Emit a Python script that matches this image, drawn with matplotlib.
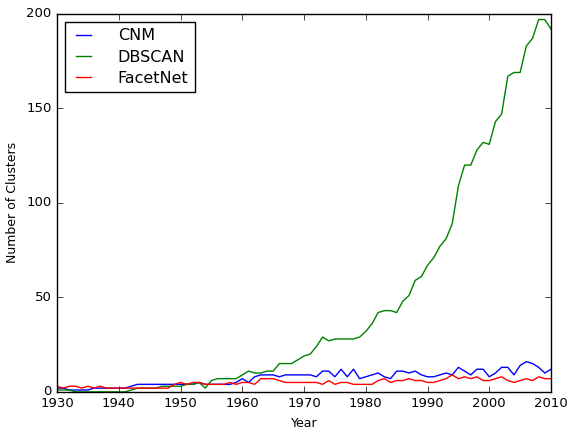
import numpy as np
import matplotlib
matplotlib.use('Agg')
import matplotlib.pyplot as plt

plt.style.use('classic')

# Годы и число кластеров для каждого метода
years = np.arange(1930, 2011)

cnm = [2, 2, 1, 1, 1, 1, 2, 2, 2, 2,
       2, 2, 3, 4, 4, 4, 4, 4, 4, 4,
       4, 4, 4, 5, 4, 4, 4, 4, 4, 5,
       7, 5, 8, 9, 9, 9, 8, 9, 9, 9,
       9, 9, 8, 11, 11, 8, 12, 8, 12, 7,
       8, 9, 10, 8, 7, 11, 11, 10, 11, 9,
       8, 8, 9, 10, 9, 13, 11, 9, 12, 12,
       8, 10, 13, 13, 9, 14, 16, 15, 13, 10,
       12]

dbscan = [1, 1, 1, 0, 0, 0, 0, 0, 0, 0,
          0, 0, 1, 2, 2, 2, 2, 3, 3, 3,
          3, 4, 4, 5, 2, 6, 7, 7, 7, 7,
          9, 11, 10, 10, 11, 11, 15, 15, 15, 17,
          19, 20, 24, 29, 27, 28, 28, 28, 28, 29,
          32, 36, 42, 43, 43, 42, 48, 51, 59, 61,
          67, 71, 77, 81, 89, 109, 120, 120, 128, 132,
          131, 143, 147, 167, 169, 169, 183, 187, 197, 197,
          192]

facetnet = [3, 2, 3, 3, 2, 3, 2, 3, 2, 2,
            2, 2, 2, 2, 2, 2, 2, 2, 2, 4,
            5, 4, 5, 5, 4, 4, 4, 4, 5, 4,
            5, 5, 4, 7, 7, 7, 6, 5, 5, 5,
            5, 5, 5, 4, 6, 4, 5, 5, 4, 4,
            4, 4, 6, 7, 5, 6, 6, 7, 6, 6,
            5, 5, 6, 7, 9, 7, 8, 7, 8, 6,
            6, 7, 8, 6, 5, 6, 7, 6, 8, 7,
            7]

fig = plt.figure(figsize=(5.71, 4.34), dpi=100)
ax = fig.add_axes([0.1, 0.097, 0.865, 0.871])

ax.plot(years, cnm, color='b', label='CNM')
ax.plot(years, dbscan, color='g', label='DBSCAN')
ax.plot(years, facetnet, color='r', label='FacetNet')

ax.set_xlim(1930, 2010)
ax.set_ylim(0, 200)
ax.ticklabel_format(useOffset=False)
ax.set_xlabel('Year', fontsize=9)
ax.set_ylabel('Number of Clusters', fontsize=9)
ax.tick_params(labelsize=9.5)
ax.legend(loc='upper left', fontsize=11.5, handlelength=1.5, handletextpad=1.4,
          labelspacing=0.4)

fig.savefig('out.png', dpi=100)
